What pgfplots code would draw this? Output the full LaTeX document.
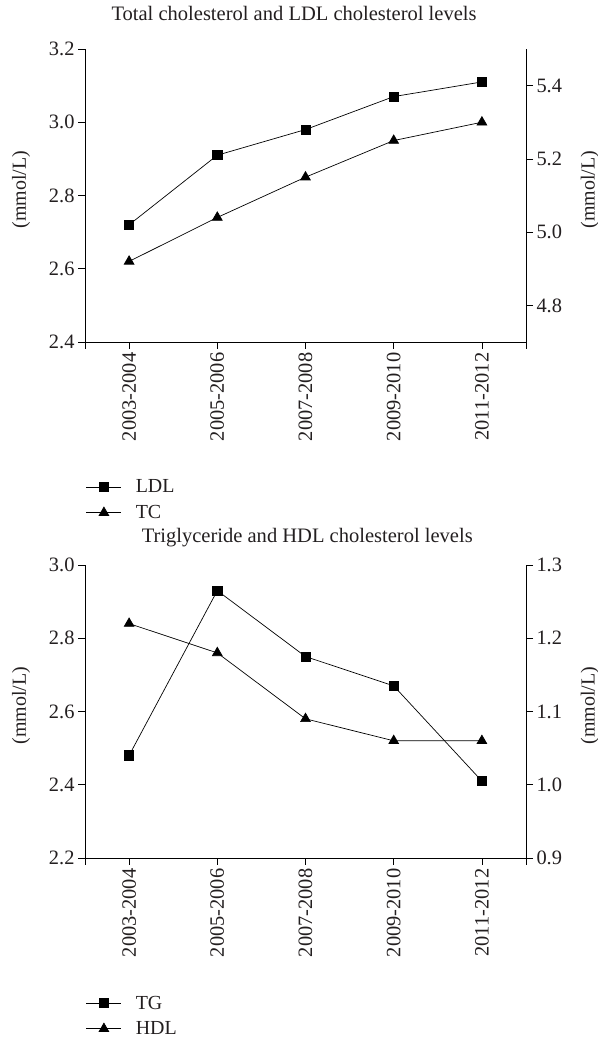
\documentclass[border=0pt]{standalone}
\usepackage{pgfplots}
\usepackage{pgfplotstable}
\pgfplotsset{compat=1.18}
\usepackage{fontspec}
\setmainfont{Liberation Serif}

\pgfplotstableread{
x LDL TC
0 2.72 4.92
1 2.91 5.04
2 2.98 5.15
3 3.07 5.25
4 3.11 5.30
}\topdata
\pgfplotstableread{
x TG HDL
0 2.48 1.22
1 2.93 1.18
2 2.75 1.09
3 2.67 1.06
4 2.41 1.06
}\botdata

\definecolor{txt}{RGB}{35,31,32}

\pgfplotsset{
  base/.style={
    scale only axis, width=441bp, height=293bp, xmin=-0.5, xmax=4.5, anchor=south west,
    font=\fontsize{20}{24}\selectfont, color=txt,
    tick align=outside, major tick length=7bp,
    axis line style={line width=0.7pt, -, black},
    every tick/.style={black, line width=0.7pt},
    /pgf/number format/assume math mode=true,
    yticklabel style={/pgf/number format/.cd, fixed, fixed zerofill, precision=1},
    tick label style={font=\fontsize{20.5}{24}\selectfont, color=txt},
    clip=false,
  },
  leftax/.style={
    base,
    axis y line*=left, axis x line*=bottom,
    xtick={0,1,2,3,4},
    xticklabels={2003-2004,2005-2006,2007-2008,2009-2010,2011-2012},
    xticklabel style={rotate=90, anchor=east, inner sep=3.5bp},
    extra x ticks={-0.5,4.5}, extra x tick labels={},
    ylabel={(mmol/L)},
    ylabel style={at={(axis description cs:-0.145,0.52)}, anchor=center, color=txt},
    legend style={draw=none, fill=none, inner sep=0pt, row sep=7bp,
      font=\fontsize{20}{24}\selectfont, text=txt,
      at={(axis description cs:0.002,-0.463)}, anchor=north west,
      legend cell align=left,
      /tikz/every odd column/.append style={column sep=12bp}},
    legend image code/.code={\draw[mark repeat=2,mark phase=2] plot coordinates {(0bp,0bp)(17.5bp,0bp)(35bp,0bp)};},
  },
  rightax/.style={
    base,
    axis y line*=right, axis x line=none,
    ylabel={(mmol/L)},
    ylabel style={anchor=center, color=txt},
  },
  sq/.style={black, line width=0.7pt, mark=square*, mark size=4.6bp, mark options={solid}},
  tri/.style={black, line width=0.7pt, mark=triangle*, mark size=5.6bp, mark options={solid}},
}

\begin{document}
\begin{tikzpicture}[x=1bp,y=1bp]
\path[use as bounding box] (0,0) rectangle (598,1040);

% ---------- top panel ----------
\begin{axis}[leftax, at={(85bp,698bp)}, ymin=2.4, ymax=3.2,
  ytick={2.4,2.6,2.8,3.0,3.2},
  title={Total cholesterol and LDL cholesterol levels},
  title style={at={(axis description cs:0.474,1.078)}, anchor=base, color=txt, font=\fontsize{20.6}{24}\selectfont}]
  \addplot[sq] table[x=x, y=LDL] {\topdata};
  \addlegendentry{LDL}
  \addlegendimage{tri}
  \addlegendentry{TC}
\end{axis}
\begin{axis}[rightax, at={(85bp,698bp)}, ymin=4.7, ymax=5.5,
  ytick={4.8,5.0,5.2,5.4},
  ylabel style={at={(axis description cs:1.145,0.52)}}]
  \addplot[tri] table[x=x, y=TC] {\topdata};
\end{axis}

% ---------- bottom panel ----------
\begin{axis}[leftax, at={(85bp,182bp)}, ymin=2.2, ymax=3.0,
  ytick={2.2,2.4,2.6,2.8,3.0},
  title={Triglyceride and HDL cholesterol levels},
  title style={at={(axis description cs:0.504,1.058)}, anchor=base, color=txt, font=\fontsize{20.6}{24}\selectfont}]
  \addplot[sq] table[x=x, y=TG] {\botdata};
  \addlegendentry{TG}
  \addlegendimage{tri}
  \addlegendentry{HDL}
\end{axis}
\begin{axis}[rightax, at={(85bp,182bp)}, ymin=0.9, ymax=1.3,
  ytick={0.9,1.0,1.1,1.2,1.3},
  ylabel style={at={(axis description cs:1.145,0.52)}}]
  \addplot[tri] table[x=x, y=HDL] {\botdata};
\end{axis}
\end{tikzpicture}
\end{document}
